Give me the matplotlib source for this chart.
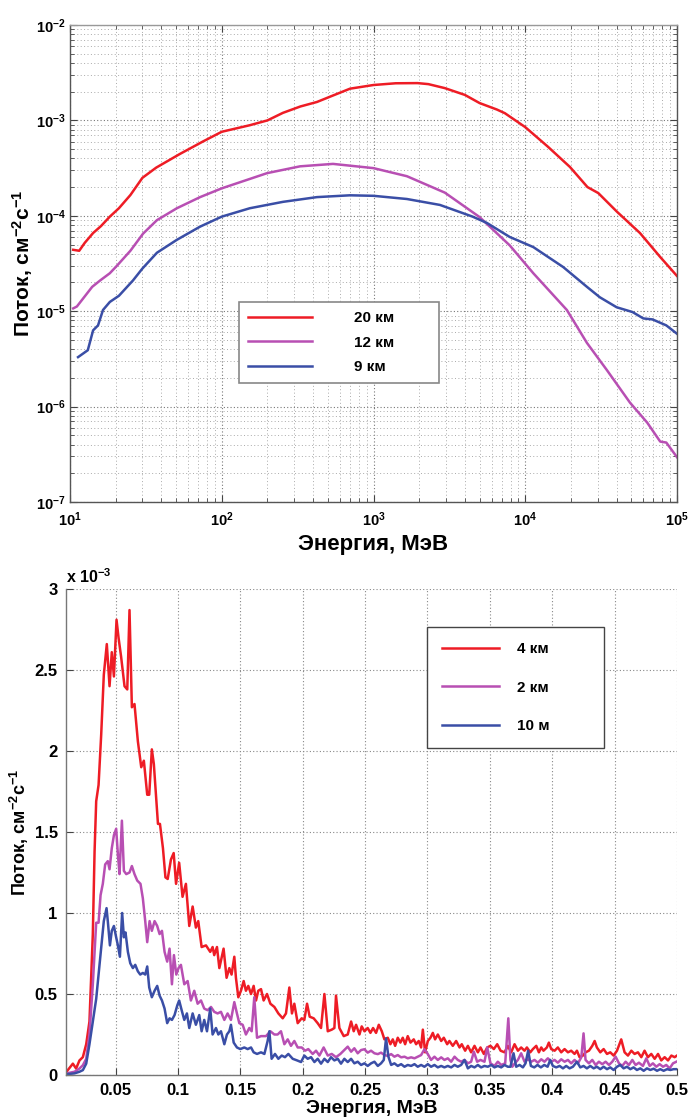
import matplotlib
matplotlib.use("Agg")
import matplotlib.pyplot as plt
from matplotlib.ticker import LogLocator, NullFormatter, FixedLocator

plt.rcParams['font.family'] = ['Liberation Sans', 'DejaVu Sans']
plt.rcParams['font.weight'] = 'bold'
plt.rcParams['mathtext.fontset'] = 'custom'
plt.rcParams['mathtext.bf'] = 'Liberation Sans:bold'
plt.rcParams['mathtext.rm'] = 'Liberation Sans:bold'
plt.rcParams['mathtext.default'] = 'bf'

# ---------------- top panel data (energy MeV, flux cm^-2 s^-1) ----------------
e_20km = [10.5, 11.5, 12.5, 14.2, 16, 18.3, 21, 25, 30, 37, 53, 75, 100, 153, 200,
          253, 330, 424, 516, 700, 1000, 1400, 1950, 2300, 2950, 4000, 5000, 6500,
          7340, 10000, 14100, 19700, 25700, 30300, 40300, 57000, 77500, 100000]
f_20km = [4.4e-5, 4.3e-5, 5.2e-5, 6.6e-5, 7.8e-5, 9.8e-5, 1.2e-4, 1.65e-4, 2.5e-4,
          3.2e-4, 4.45e-4, 6.0e-4, 7.6e-4, 8.9e-4, 1.0e-3, 1.2e-3, 1.4e-3, 1.56e-3,
          1.77e-3, 2.15e-3, 2.35e-3, 2.45e-3, 2.46e-3, 2.4e-3, 2.18e-3, 1.85e-3,
          1.52e-3, 1.3e-3, 1.19e-3, 8.5e-4, 5.3e-4, 3.25e-4, 2.0e-4, 1.73e-4, 1.1e-4,
          6.6e-5, 3.7e-5, 2.34e-5]

e_12km = [10.5, 11.1, 14.0, 15.8, 18.3, 20.4, 25, 30.3, 37.4, 50.6, 72, 100, 199,
          328, 541, 1000, 1660, 2950, 5000, 7900, 11300, 18800, 25500, 34600,
          49000, 63600, 77500, 85000, 100000]
f_12km = [1.07e-5, 1.12e-5, 1.8e-5, 2.1e-5, 2.5e-5, 3.0e-5, 4.3e-5, 6.5e-5, 9.0e-5,
          1.2e-4, 1.57e-4, 1.94e-4, 2.8e-4, 3.3e-4, 3.5e-4, 3.16e-4, 2.6e-4,
          1.75e-4, 9.7e-5, 4.9e-5, 2.5e-5, 1.03e-5, 4.65e-6, 2.4e-6, 1.1e-6,
          6.8e-7, 4.3e-7, 4.2e-7, 2.95e-7]

e_9km = [11.3, 13.1, 14.2, 15.3, 16.5, 18.3, 21, 26, 30, 37.4, 50.6, 72, 100, 153,
         253, 424, 700, 1000, 1660, 2740, 4500, 5600, 7900, 11300, 17800, 25500,
         31000, 40000, 50900, 60000, 69000, 85000, 100000]
f_9km = [3.3e-6, 3.9e-6, 6.3e-6, 7.1e-6, 1.03e-5, 1.25e-5, 1.45e-5, 2.1e-5, 2.8e-5,
         4.1e-5, 5.6e-5, 7.7e-5, 9.8e-5, 1.2e-4, 1.4e-4, 1.57e-4, 1.64e-4, 1.62e-4,
         1.5e-4, 1.3e-4, 9.8e-5, 8.4e-5, 6.0e-5, 4.7e-5, 2.9e-5, 1.8e-5, 1.4e-5,
         1.1e-5, 9.8e-6, 8.4e-6, 8.2e-6, 7.1e-6, 5.8e-6]

top_labels = ['20 км', '12 км', '9 км']
top_xticks = [1e1, 1e2, 1e3, 1e4, 1e5]
top_xticklabels = [r'$10^{1}$', r'$10^{2}$', r'$10^{3}$', r'$10^{4}$', r'$10^{5}$']
top_yticks = [1e-7, 1e-6, 1e-5, 1e-4, 1e-3, 1e-2]
top_yticklabels = [r'$10^{-7}$', r'$10^{-6}$', r'$10^{-5}$', r'$10^{-4}$', r'$10^{-3}$', r'$10^{-2}$']

# ---------------- bottom panel data (energy MeV, flux in 1e-3 cm^-2 s^-1) ----------------
e_4km = [0.0107, 0.0158, 0.0184, 0.0211, 0.0238, 0.0265, 0.0291, 0.0318, 0.0332, 0.0345,
         0.0364, 0.0385, 0.0406, 0.0430, 0.0452, 0.0470, 0.0487, 0.0508, 0.0524, 0.0545,
         0.0572, 0.0594, 0.0612, 0.0631, 0.0652, 0.0679, 0.0706, 0.0727, 0.0754, 0.0770,
         0.0791, 0.0807, 0.0840, 0.0856, 0.0880, 0.0900, 0.0918, 0.0944, 0.0966, 0.0985,
         0.1010, 0.1037, 0.1064, 0.1091, 0.1118, 0.1144, 0.1163, 0.1190, 0.1225, 0.1259,
         0.1278, 0.1291, 0.1313, 0.1332, 0.1366, 0.1390, 0.1412, 0.1430, 0.1452, 0.1465,
         0.1484, 0.1505, 0.1527, 0.1545, 0.1564, 0.1586, 0.1607, 0.1626, 0.1644, 0.1666,
         0.1687, 0.1714, 0.1741, 0.1773, 0.1805, 0.1840, 0.1866, 0.1893, 0.1914, 0.1933,
         0.1960, 0.1992, 0.2013, 0.2035, 0.2056, 0.2088, 0.2120, 0.2147, 0.2174, 0.2201,
         0.2233, 0.2254, 0.2267, 0.2294, 0.2329, 0.2361, 0.2388, 0.2409, 0.2428, 0.2455,
         0.2473, 0.2495, 0.2521, 0.2543, 0.2564, 0.2588, 0.2610, 0.2634, 0.2655, 0.2682,
         0.2703, 0.2722, 0.2741, 0.2762, 0.2783, 0.2802, 0.2821, 0.2842, 0.2864, 0.2890,
         0.2909, 0.2930, 0.2949, 0.2963, 0.2981, 0.3003, 0.3024, 0.3043, 0.3061, 0.3083,
         0.3110, 0.3131, 0.3158, 0.3176, 0.3203, 0.3230, 0.3257, 0.3275, 0.3302, 0.3324,
         0.3350, 0.3377, 0.3404, 0.3425, 0.3452, 0.3479, 0.3505, 0.3532, 0.3559, 0.3586,
         0.3618, 0.3644, 0.3671, 0.3698, 0.3725, 0.3751, 0.3778, 0.3797, 0.3824, 0.3845,
         0.3872, 0.3893, 0.3912, 0.3930, 0.3957, 0.3973, 0.3992, 0.4019, 0.4045, 0.4072,
         0.4099, 0.4126, 0.4152, 0.4179, 0.4198, 0.4219, 0.4246, 0.4267, 0.4294, 0.4321,
         0.4340, 0.4358, 0.4385, 0.4412, 0.4439, 0.4465, 0.4492, 0.4519, 0.4553, 0.4580,
         0.4607, 0.4634, 0.4660, 0.4687, 0.4714, 0.4740, 0.4767, 0.4794, 0.4821, 0.4848,
         0.4874, 0.4901, 0.4928, 0.4955, 0.4981, 0.5000]
f_4km = [0.02, 0.07, 0.04, 0.09, 0.11, 0.19, 0.33, 0.87, 1.38, 1.69,
         1.79, 2.10, 2.47, 2.66, 2.40, 2.61, 2.46, 2.81, 2.70, 2.58,
         2.40, 2.38, 2.87, 2.27, 2.29, 2.06, 1.90, 1.94, 1.73, 1.73,
         2.01, 1.92, 1.55, 1.55, 1.40, 1.22, 1.21, 1.33, 1.37, 1.18,
         1.31, 1.10, 1.18, 0.92, 1.04, 0.91, 0.95, 0.79, 0.80, 0.76,
         0.79, 0.74, 0.79, 0.66, 0.78, 0.60, 0.66, 0.62, 0.73, 0.60,
         0.48, 0.52, 0.58, 0.52, 0.55, 0.50, 0.55, 0.46, 0.52, 0.53,
         0.46, 0.50, 0.44, 0.42, 0.38, 0.35, 0.38, 0.54, 0.38, 0.44,
         0.32, 0.35, 0.34, 0.44, 0.36, 0.35, 0.32, 0.29, 0.50, 0.27,
         0.28, 0.29, 0.49, 0.29, 0.24, 0.25, 0.33, 0.27, 0.31, 0.25,
         0.30, 0.27, 0.29, 0.26, 0.29, 0.26, 0.31, 0.27, 0.22, 0.23,
         0.19, 0.22, 0.18, 0.23, 0.20, 0.23, 0.19, 0.24, 0.20, 0.22,
         0.19, 0.21, 0.17, 0.28, 0.14, 0.21, 0.23, 0.26, 0.22, 0.25,
         0.21, 0.23, 0.19, 0.21, 0.18, 0.21, 0.17, 0.19, 0.15, 0.18,
         0.14, 0.18, 0.14, 0.17, 0.13, 0.17, 0.18, 0.16, 0.19, 0.15,
         0.14, 0.18, 0.14, 0.19, 0.15, 0.17, 0.15, 0.17, 0.14, 0.16,
         0.18, 0.14, 0.17, 0.15, 0.17, 0.20, 0.16, 0.15, 0.17, 0.14,
         0.16, 0.14, 0.15, 0.13, 0.15, 0.11, 0.12, 0.14, 0.15, 0.18,
         0.21, 0.17, 0.14, 0.16, 0.13, 0.14, 0.12, 0.15, 0.22, 0.14,
         0.12, 0.15, 0.13, 0.14, 0.11, 0.15, 0.11, 0.13, 0.10, 0.13,
         0.09, 0.11, 0.09, 0.12, 0.11, 0.12]

e_2km = [0.0108, 0.0171, 0.0211, 0.0238, 0.0265, 0.0291, 0.0318, 0.0345, 0.0364, 0.0380,
         0.0398, 0.0417, 0.0438, 0.0452, 0.0470, 0.0487, 0.0505, 0.0519, 0.0532, 0.0551,
         0.0567, 0.0586, 0.0612, 0.0631, 0.0652, 0.0674, 0.0700, 0.0719, 0.0738, 0.0754,
         0.0773, 0.0791, 0.0813, 0.0834, 0.0853, 0.0872, 0.0893, 0.0914, 0.0933, 0.0952,
         0.0968, 0.0987, 0.1005, 0.1024, 0.1051, 0.1078, 0.1104, 0.1131, 0.1158, 0.1185,
         0.1211, 0.1238, 0.1265, 0.1291, 0.1318, 0.1345, 0.1372, 0.1398, 0.1425, 0.1452,
         0.1473, 0.1492, 0.1519, 0.1545, 0.1572, 0.1591, 0.1612, 0.1634, 0.1666, 0.1706,
         0.1741, 0.1773, 0.1799, 0.1826, 0.1853, 0.1880, 0.1906, 0.1933, 0.1960, 0.1992,
         0.2019, 0.2045, 0.2080, 0.2107, 0.2134, 0.2168, 0.2201, 0.2233, 0.2267, 0.2302,
         0.2334, 0.2361, 0.2388, 0.2414, 0.2441, 0.2468, 0.2495, 0.2521, 0.2548, 0.2575,
         0.2602, 0.2628, 0.2655, 0.2682, 0.2709, 0.2735, 0.2762, 0.2789, 0.2816, 0.2842,
         0.2869, 0.2896, 0.2922, 0.2949, 0.2976, 0.3003, 0.3029, 0.3056, 0.3083, 0.3110,
         0.3136, 0.3163, 0.3190, 0.3217, 0.3243, 0.3270, 0.3297, 0.3324, 0.3350, 0.3372,
         0.3398, 0.3425, 0.3457, 0.3479, 0.3505, 0.3537, 0.3564, 0.3591, 0.3623, 0.3648,
         0.3665, 0.3680, 0.3700, 0.3725, 0.3751, 0.3778, 0.3805, 0.3832, 0.3858, 0.3885,
         0.3912, 0.3938, 0.3965, 0.3992, 0.4019, 0.4045, 0.4072, 0.4099, 0.4126, 0.4152,
         0.4179, 0.4206, 0.4233, 0.4251, 0.4267, 0.4294, 0.4321, 0.4348, 0.4374, 0.4401,
         0.4428, 0.4455, 0.4481, 0.4508, 0.4535, 0.4561, 0.4588, 0.4615, 0.4642, 0.4668,
         0.4695, 0.4727, 0.4754, 0.4781, 0.4807, 0.4834, 0.4861, 0.4888, 0.4914, 0.4941,
         0.4968, 0.4995]
f_2km = [0.01, 0.02, 0.04, 0.06, 0.10, 0.25, 0.56, 0.94, 0.94, 1.11,
         1.18, 1.30, 1.32, 1.27, 1.40, 1.48, 1.52, 1.36, 1.24, 1.57,
         1.26, 1.24, 1.25, 1.29, 1.24, 1.20, 1.18, 1.09, 0.95, 0.82,
         0.95, 0.89, 0.95, 0.92, 0.87, 0.89, 0.76, 0.70, 0.78, 0.56,
         0.74, 0.62, 0.66, 0.68, 0.56, 0.58, 0.46, 0.52, 0.44, 0.46,
         0.41, 0.40, 0.42, 0.39, 0.38, 0.39, 0.34, 0.38, 0.34, 0.45,
         0.38, 0.32, 0.31, 0.25, 0.29, 0.27, 0.48, 0.23, 0.24, 0.24,
         0.27, 0.25, 0.25, 0.27, 0.19, 0.22, 0.18, 0.21, 0.17, 0.17,
         0.15, 0.16, 0.13, 0.15, 0.12, 0.17, 0.12, 0.13, 0.11, 0.13,
         0.154, 0.175, 0.144, 0.165, 0.134, 0.154, 0.159, 0.138, 0.150, 0.134,
         0.129, 0.138, 0.123, 0.118, 0.129, 0.113, 0.123, 0.109, 0.113, 0.103,
         0.109, 0.103, 0.113, 0.123, 0.159, 0.129, 0.093, 0.113, 0.093, 0.109,
         0.093, 0.103, 0.082, 0.113, 0.093, 0.082, 0.093, 0.072, 0.082, 0.144,
         0.082, 0.093, 0.082, 0.170, 0.072, 0.056, 0.082, 0.062, 0.072, 0.350,
         0.093, 0.051, 0.072, 0.093, 0.134, 0.082, 0.097, 0.082, 0.093, 0.076,
         0.097, 0.082, 0.103, 0.082, 0.093, 0.076, 0.097, 0.082, 0.093, 0.072,
         0.093, 0.072, 0.109, 0.257, 0.093, 0.072, 0.093, 0.062, 0.082, 0.067,
         0.082, 0.062, 0.082, 0.113, 0.072, 0.056, 0.082, 0.062, 0.093, 0.062,
         0.076, 0.056, 0.103, 0.056, 0.072, 0.051, 0.067, 0.051, 0.062, 0.041,
         0.072, 0.082]

e_10m = [0.0108, 0.0171, 0.0211, 0.0238, 0.0265, 0.0291, 0.0318, 0.0345, 0.0364, 0.0385,
         0.0406, 0.0428, 0.0438, 0.0455, 0.0470, 0.0487, 0.0505, 0.0519, 0.0535, 0.0553,
         0.0567, 0.0580, 0.0599, 0.0618, 0.0639, 0.0658, 0.0679, 0.0698, 0.0719, 0.0738,
         0.0754, 0.0770, 0.0791, 0.0813, 0.0834, 0.0853, 0.0872, 0.0893, 0.0914, 0.0933,
         0.0952, 0.0973, 0.0995, 0.1010, 0.1030, 0.1051, 0.1072, 0.1091, 0.1118, 0.1144,
         0.1171, 0.1190, 0.1211, 0.1233, 0.1259, 0.1278, 0.1305, 0.1324, 0.1345, 0.1372,
         0.1393, 0.1412, 0.1425, 0.1447, 0.1473, 0.1500, 0.1532, 0.1559, 0.1586, 0.1607,
         0.1634, 0.1666, 0.1693, 0.1719, 0.1733, 0.1751, 0.1778, 0.1805, 0.1832, 0.1858,
         0.1885, 0.1920, 0.1955, 0.1987, 0.2013, 0.2040, 0.2067, 0.2094, 0.2120, 0.2147,
         0.2174, 0.2201, 0.2227, 0.2254, 0.2281, 0.2307, 0.2334, 0.2361, 0.2388, 0.2414,
         0.2441, 0.2468, 0.2495, 0.2521, 0.2548, 0.2575, 0.2602, 0.2628, 0.2650, 0.2668,
         0.2687, 0.2709, 0.2735, 0.2762, 0.2789, 0.2816, 0.2842, 0.2869, 0.2896, 0.2922,
         0.2949, 0.2976, 0.3003, 0.3029, 0.3056, 0.3083, 0.3110, 0.3136, 0.3163, 0.3190,
         0.3217, 0.3243, 0.3270, 0.3297, 0.3324, 0.3350, 0.3377, 0.3404, 0.3430, 0.3457,
         0.3484, 0.3511, 0.3537, 0.3564, 0.3591, 0.3618, 0.3644, 0.3665, 0.3690, 0.3711,
         0.3738, 0.3765, 0.3786, 0.3807, 0.3829, 0.3856, 0.3882, 0.3909, 0.3936, 0.3963,
         0.3984, 0.4005, 0.4032, 0.4059, 0.4086, 0.4112, 0.4139, 0.4166, 0.4198, 0.4225,
         0.4251, 0.4278, 0.4305, 0.4332, 0.4358, 0.4385, 0.4412, 0.4439, 0.4465, 0.4492,
         0.4519, 0.4545, 0.4572, 0.4599, 0.4626, 0.4652, 0.4679, 0.4706, 0.4733, 0.4759,
         0.4786, 0.4813, 0.4840, 0.4866, 0.4893, 0.4920, 0.4947, 0.4973, 0.5000]
f_10m = [0.005, 0.01, 0.02, 0.03, 0.07, 0.19, 0.33, 0.47, 0.62, 0.78,
         0.95, 1.03, 0.95, 0.80, 0.89, 0.92, 0.85, 0.80, 0.73, 1.00,
         0.85, 0.88, 0.76, 0.69, 0.66, 0.68, 0.64, 0.62, 0.63, 0.62,
         0.67, 0.54, 0.48, 0.52, 0.55, 0.49, 0.46, 0.41, 0.32, 0.35,
         0.34, 0.37, 0.43, 0.46, 0.40, 0.34, 0.38, 0.29, 0.38, 0.31,
         0.37, 0.27, 0.34, 0.27, 0.41, 0.25, 0.29, 0.25, 0.27, 0.19,
         0.25, 0.27, 0.31, 0.20, 0.17, 0.16, 0.17, 0.16, 0.17, 0.14,
         0.13, 0.14, 0.13, 0.21, 0.27, 0.10, 0.13, 0.10, 0.12, 0.11,
         0.13, 0.10, 0.09, 0.08, 0.12, 0.10, 0.11, 0.08, 0.10, 0.07,
         0.10, 0.08, 0.11, 0.09, 0.10, 0.07, 0.10, 0.08, 0.10, 0.072,
         0.082, 0.062, 0.072, 0.056, 0.072, 0.082, 0.056, 0.072, 0.093, 0.226,
         0.113, 0.062, 0.072, 0.056, 0.067, 0.051, 0.062, 0.056, 0.067, 0.051,
         0.062, 0.051, 0.067, 0.051, 0.062, 0.047, 0.056, 0.047, 0.056, 0.047,
         0.062, 0.051, 0.062, 0.093, 0.041, 0.056, 0.047, 0.062, 0.047, 0.056,
         0.051, 0.062, 0.047, 0.056, 0.047, 0.062, 0.051, 0.051, 0.134, 0.051,
         0.062, 0.047, 0.072, 0.150, 0.056, 0.047, 0.062, 0.047, 0.062, 0.051,
         0.093, 0.056, 0.047, 0.056, 0.041, 0.056, 0.041, 0.051, 0.082, 0.047,
         0.056, 0.041, 0.056, 0.041, 0.051, 0.036, 0.051, 0.036, 0.047, 0.031,
         0.051, 0.062, 0.041, 0.051, 0.036, 0.047, 0.031, 0.041, 0.026, 0.041,
         0.031, 0.039, 0.026, 0.036, 0.026, 0.036, 0.031, 0.036, 0.036]

bottom_labels = ['4 км', '2 км', '10 м']
bot_xticks = [0.05, 0.1, 0.15, 0.2, 0.25, 0.3, 0.35, 0.4, 0.45, 0.5]
bot_xticklabels = ['0.05', '0.1', '0.15', '0.2', '0.25', '0.3', '0.35', '0.4', '0.45', '0.5']
bot_yticks = [0, 0.5, 1, 1.5, 2, 2.5, 3]
bot_yticklabels = ['0', '0.5', '1', '1.5', '2', '2.5', '3']

RED = '#ee1c25'
MAG = '#b84fb3'
BLUE = '#3a4ea6'
LW = 1.8
SPINE = '#555555'

fig = plt.figure(figsize=(6.91, 11.17), dpi=100)

# ---------------- top ----------------
ax1 = fig.add_axes([70 / 691, 1 - 502 / 1117, 607 / 691, 477 / 1117])
ax1.plot(e_20km, f_20km, color=RED, lw=LW, label=top_labels[0])
ax1.plot(e_12km, f_12km, color=MAG, lw=LW, label=top_labels[1])
ax1.plot(e_9km, f_9km, color=BLUE, lw=LW, label=top_labels[2])
ax1.set_xscale('log')
ax1.set_yscale('log')
ax1.set_xlim(10, 1e5)
ax1.set_ylim(1e-7, 1e-2)
ax1.xaxis.set_major_locator(FixedLocator(top_xticks))
ax1.set_xticklabels(top_xticklabels)
ax1.yaxis.set_major_locator(FixedLocator(top_yticks))
ax1.set_yticklabels(top_yticklabels)
ax1.xaxis.set_minor_locator(LogLocator(base=10, subs=range(2, 10)))
ax1.yaxis.set_minor_locator(LogLocator(base=10, subs=range(2, 10)))
ax1.xaxis.set_minor_formatter(NullFormatter())
ax1.yaxis.set_minor_formatter(NullFormatter())
ax1.grid(which='major', ls=(0, (1, 2)), color='#777777', lw=0.8)
ax1.grid(which='minor', ls=(0, (1, 2.5)), color='#aaaaaa', lw=0.7)
ax1.tick_params(which='both', direction='in', top=True, right=True, labelsize=10.5,
                color='#444444')
ax1.tick_params(axis='y', pad=3)
ax1.tick_params(axis='x', pad=6)
ax1.tick_params(which='major', length=5)
ax1.tick_params(which='minor', length=3)
for s in ax1.spines.values():
    s.set_color(SPINE)
    s.set_linewidth(1.0)
ax1.spines['top'].set_color('#999999')
ax1.set_xlabel('Энергия, МэВ', fontsize=16, fontweight='bold', labelpad=4)
ax1.set_ylabel('Поток, см$^{-2}$с$^{-1}$', fontsize=15, fontweight='bold')
ax1.yaxis.set_label_coords(-0.058, 0.5)
leg1 = ax1.legend(loc='upper left', bbox_to_anchor=(239 / 691, 1 - 302 / 1117, 200 / 691, 0.0),
                  bbox_transform=fig.transFigure, mode='expand', borderaxespad=0,
                  fontsize=11, handlelength=4.2, handletextpad=2.7, labelspacing=0.68,
                  borderpad=0.6, fancybox=False, framealpha=1)
leg1.get_frame().set_edgecolor('#888888')
leg1.get_frame().set_linewidth(1.2)

# ---------------- bottom ----------------
ax2 = fig.add_axes([66 / 691, 1 - 1075 / 1117, 611 / 691, 486 / 1117])
ax2.plot(e_4km, f_4km, color=RED, lw=LW, label=bottom_labels[0])
ax2.plot(e_2km, f_2km, color=MAG, lw=LW, label=bottom_labels[1])
ax2.plot(e_10m, f_10m, color=BLUE, lw=LW, label=bottom_labels[2])
ax2.set_xlim(0.0103, 0.5)
ax2.set_ylim(0, 3)
ax2.xaxis.set_major_locator(FixedLocator(bot_xticks))
ax2.set_xticklabels(bot_xticklabels)
ax2.yaxis.set_major_locator(FixedLocator(bot_yticks))
ax2.set_yticklabels(bot_yticklabels)
ax2.grid(which='major', ls=(0, (1, 2)), color='#888888', lw=0.8)
ax2.tick_params(which='both', direction='in', labelsize=12, length=5, color='#444444', pad=6)
ax2.spines['top'].set_visible(False)
ax2.spines['right'].set_visible(False)
for s in ('left', 'bottom'):
    ax2.spines[s].set_color('#777777')
    ax2.spines[s].set_linewidth(1.0)
ax2.set_xlabel('Энергия, МэВ', fontsize=14, fontweight='bold', labelpad=1)
ax2.set_ylabel('Поток, см$^{-2}$с$^{-1}$', fontsize=13, fontweight='bold')
ax2.yaxis.set_label_coords(-0.058, 0.5)
ax2.text(0.0, 1.006, r'x 10$^{-3}$', transform=ax2.transAxes, fontsize=11.5,
         fontweight='bold', ha='left', va='bottom')
leg2 = ax2.legend(loc='upper left', bbox_to_anchor=(427 / 691, 1 - 627 / 1117, 177 / 691, 0.0),
                  bbox_transform=fig.transFigure, mode='expand', borderaxespad=0,
                  fontsize=11, handlelength=3.7, handletextpad=1.2, labelspacing=1.6,
                  borderpad=1.0, fancybox=False, framealpha=1)
leg2.get_frame().set_edgecolor('#444444')
leg2.get_frame().set_linewidth(1.0)

fig.savefig('out.png', dpi=100)
